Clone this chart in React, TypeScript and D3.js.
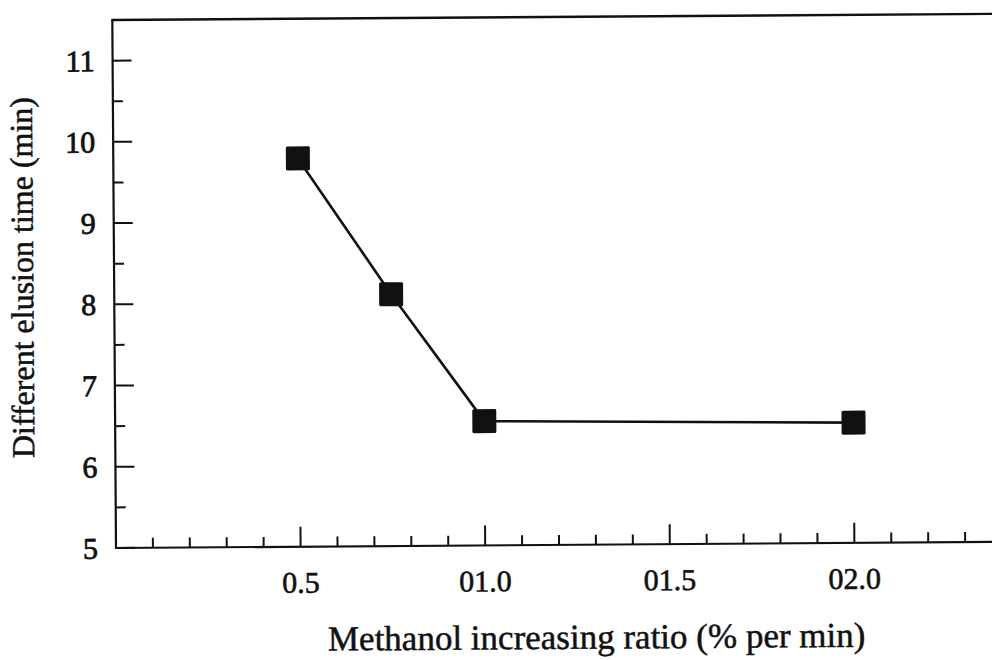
import React from "react";
import * as d3 from "d3";

// Methanol gradient ratio (% per min) vs. difference in elution time (min)
const ratio = [0.5, 0.75, 1.0, 2.0];
const elutionDiff = [9.78, 8.1, 6.53, 6.48];

const xMajorValues = [0.5, 1.0, 1.5, 2.0];
const xMajorLabels = ["0.5", "01.0", "01.5", "02.0"];
const yMajorValues = [5, 6, 7, 8, 9, 10, 11];
const yMajorLabels = ["5", "6", "7", "8", "9", "10", "11"];

const W = 992;
const H = 660;
const originX = 116;
const originY = 548;

const FONT = "'Liberation Serif', 'Times New Roman', Times, serif";
const INK = "#111";

export default function App() {
  const x = d3.scaleLinear().domain([0, 2.5]).range([originX, originX + 923]);
  const y = d3.scaleLinear().domain([5, 11.5]).range([originY, 20]);

  const xMinor = x.ticks(25).filter((t) => !xMajorValues.some((m) => Math.abs(m - t) < 1e-6) && t > 0);
  const yMinor = y.ticks(13).filter((t) => !yMajorValues.some((m) => Math.abs(m - t) < 1e-6) && t < 11.5);

  const line = d3
    .line<number>()
    .x((_, i) => x(ratio[i]))
    .y((d) => y(d));

  const markerSize = 24;

  return (
    <svg
      width={W}
      height={H}
      viewBox={`0 0 ${W} ${H}`}
      style={{ position: "absolute", left: 0, top: 0, background: "#fff" }}
    >
      <g transform={`rotate(-0.4 ${originX} ${originY})`}>
        {/* frame: left axis, bottom axis, top edge */}
        <line x1={x(0)} x2={x(0)} y1={y(5)} y2={y(11.5)} stroke={INK} strokeWidth={2.2} />
        <line x1={x(0) - 1} x2={x(2.5)} y1={y(5)} y2={y(5)} stroke={INK} strokeWidth={2.2} />
        <line x1={x(0) - 1} x2={x(2.5)} y1={y(11.5)} y2={y(11.5)} stroke={INK} strokeWidth={2.4} />

        {/* y ticks (inward) */}
        {yMajorValues.map((v) => (
          <line key={`ym${v}`} x1={x(0)} x2={x(0) + 19} y1={y(v)} y2={y(v)} stroke={INK} strokeWidth={2} />
        ))}
        {yMinor.map((v) => (
          <line key={`yn${v}`} x1={x(0)} x2={x(0) + 10} y1={y(v)} y2={y(v)} stroke={INK} strokeWidth={2} />
        ))}
        {yMajorValues.map((v, i) => (
          <text
            key={`yl${v}`}
            x={98}
            y={y(v)}
            dy="0.35em"
            textAnchor="end"
            fontFamily={FONT}
            fontSize={30}
            fill={INK}
            stroke={INK}
            strokeWidth={0.8}
          >
            {yMajorLabels[i]}
          </text>
        ))}

        {/* x ticks (inward) */}
        {xMajorValues.map((v) => (
          <line key={`xm${v}`} x1={x(v)} x2={x(v)} y1={y(5)} y2={y(5) - 20} stroke={INK} strokeWidth={2} />
        ))}
        {xMinor.map((v) => (
          <line key={`xn${v}`} x1={x(v)} x2={x(v)} y1={y(5)} y2={y(5) - 10} stroke={INK} strokeWidth={2} />
        ))}
        {xMajorValues.map((v, i) => (
          <text
            key={`xl${v}`}
            x={x(v)}
            y={originY + 46}
            textAnchor="middle"
            fontFamily={FONT}
            fontSize={30}
            fill={INK}
            stroke={INK}
            strokeWidth={0.6}
          >
            {xMajorLabels[i]}
          </text>
        ))}

        {/* axis titles */}
        <text
          x={596}
          y={652}
          textAnchor="middle"
          fontFamily={FONT}
          fontSize={35}
          fill={INK}
          stroke={INK}
          strokeWidth={0.5}
        >
          Methanol increasing ratio (% per min)
        </text>
        <text
          transform="translate(35 277) rotate(-90)"
          textAnchor="middle"
          fontFamily={FONT}
          fontSize={32}
          fill={INK}
          stroke={INK}
          strokeWidth={0.5}
        >
          Different elusion time (min)
        </text>

        {/* series */}
        <path d={line(elutionDiff) ?? ""} fill="none" stroke={INK} strokeWidth={2.6} />
        {elutionDiff.map((v, i) => (
          <rect
            key={`pt${i}`}
            x={x(ratio[i]) - markerSize / 2}
            y={y(v) - markerSize / 2}
            width={markerSize}
            height={markerSize}
            rx={1.5}
            fill={INK}
          />
        ))}
      </g>
    </svg>
  );
}
